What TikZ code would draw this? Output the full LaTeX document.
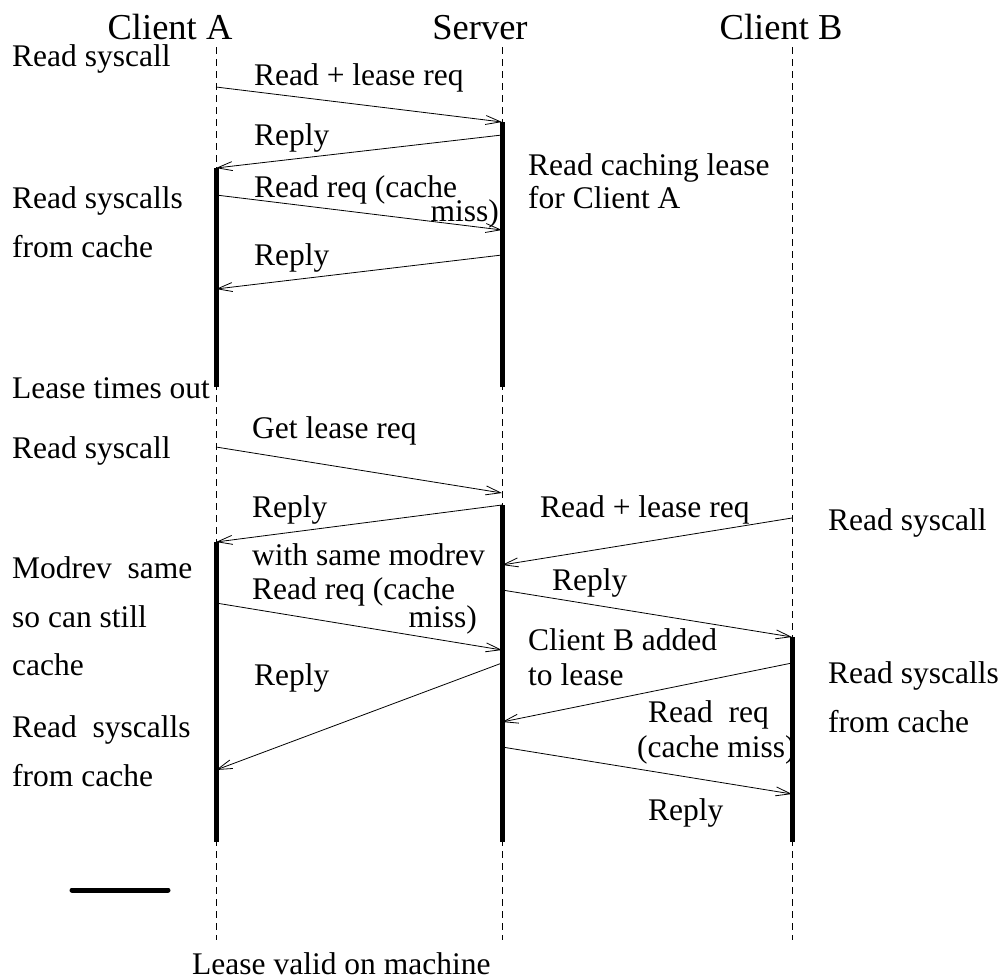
\documentclass[tikz,border=0pt]{standalone}
\usepackage{fontspec}
\setmainfont{Liberation Serif}
\usetikzlibrary{arrows.meta}

\begin{document}
\begin{tikzpicture}[x=1pt,y=-1pt,
    txt/.style={anchor=base west,inner sep=0pt,font=\fontsize{31.5}{38}\selectfont},
    head/.style={anchor=base,inner sep=0pt,font=\fontsize{36.5}{44}\selectfont},
    life/.style={line width=0.8pt,dash pattern=on 7pt off 5pt},
    lease/.style={line width=5pt},
    msg/.style={line width=0.8pt,-{Straight Barb[length=15pt,width=9pt,line width=0.8pt]}}]
  \useasboundingbox (0,0) rectangle (1005,980);
  \def\xa{216}
  \def\xs{502}
  \def\xb{792}

  % machines
  \node[head] (cla) at (170,39) {Client A};
  \node[head] (srv) at (480,39) {Server};
  \node[head] (clb) at (781,39) {Client B};
  \foreach \x in {\xa,\xs,\xb}
    \draw[life] (\x,47) -- (\x,940);

  % lease periods
  \draw[lease] (\xs,122) -- (\xs,387);
  \draw[lease] (\xa,168) -- (\xa,387);
  \draw[lease] (\xs,505) -- (\xs,842);
  \draw[lease] (\xa,542) -- (\xa,842);
  \draw[lease] (\xb,637) -- (\xb,842);

  % message end points
  \coordinate (a1) at (\xa,87);   \coordinate (s1) at (\xs,122);
  \coordinate (s2) at (\xs,135);  \coordinate (a2) at (\xa,168);
  \coordinate (a3) at (\xa,195);  \coordinate (s3) at (\xs,230);
  \coordinate (s4) at (\xs,255);  \coordinate (a4) at (\xa,289);
  \coordinate (a5) at (\xa,447);  \coordinate (s5) at (\xs,493);
  \coordinate (s6) at (\xs,505);  \coordinate (a6) at (\xa,542);
  \coordinate (b7) at (\xb,518);  \coordinate (s7) at (\xs,565);
  \coordinate (s9) at (\xs,590);  \coordinate (b9) at (\xb,637);
  \coordinate (a8) at (\xa,603);  \coordinate (s8) at (\xs,650);
  \coordinate (s10) at (\xs,663); \coordinate (a10) at (\xa,770);
  \coordinate (b11) at (\xb,663); \coordinate (s11) at (\xs,722);
  \coordinate (s12) at (\xs,747); \coordinate (b12) at (\xb,794);

  % messages
  \draw[msg] (a1) -- (s1);
  \draw[msg] (s2) -- (a2);
  \draw[msg] (a3) -- (s3);
  \draw[msg] (s4) -- (a4);
  \draw[msg] (a5) -- (s5);
  \draw[msg] (s6) -- (a6);
  \draw[msg] (b7) -- (s7);
  \draw[msg] (a8) -- (s8);
  \draw[msg] (s9) -- (b9);
  \draw[msg] (s10) -- (a10);
  \draw[msg] (b11) -- (s11);
  \draw[msg] (s12) -- (b12);

  % message labels
  \node[txt] (m1) at (254,85) {Read + lease req};
  \node[txt] (m2) at (254,145) {Reply};
  \node[txt] (m3) at (254,197) {Read req (cache};
  \node[txt,anchor=base east] (m3b) at (499,221) {miss)};
  \node[txt] (m4) at (254,265) {Reply};
  \node[txt] (m5) at (252,438) {Get lease req};
  \node[txt] (m6) at (252,517) {Reply};
  \node[txt] (m6b) at (252,565) {with same modrev};
  \node[txt] (m7) at (540,517) {Read + lease req};
  \node[txt] (m8) at (252,599) {Read req (cache};
  \node[txt,anchor=base east] (m8b) at (477,627) {miss)};
  \node[txt] (m9) at (552,590) {Reply};
  \node[txt] (m10) at (254,685) {Reply};
  \node[txt] (m11) at (648,722) {Read\ \ req};
  \node[txt] (m11b) at (637,757) {(cache miss)};
  \node[txt] (m12) at (648,820) {Reply};

  % events at the machines
  \node[txt] (e1) at (12,66) {Read syscall};
  \node[txt] (e2) at (12,208) {Read syscalls};
  \node[txt] (e2b) at (12,257) {from cache};
  \node[txt] (e3) at (528,175) {Read caching lease};
  \node[txt] (e3b) at (528,208) {for Client A};
  \node[txt] (e4) at (12,398) {Lease times out};
  \node[txt] (e5) at (12,458) {Read syscall};
  \node[txt] (e6) at (12,578) {Modrev\ \ same};
  \node[txt] (e6b) at (12,627) {so can still};
  \node[txt] (e6c) at (12,675) {cache};
  \node[txt] (e7) at (12,737) {Read\ \ syscalls};
  \node[txt] (e7b) at (12,786) {from cache};
  \node[txt] (e8) at (528,650) {Client B added};
  \node[txt] (e8b) at (528,685) {to lease};
  \node[txt] (e9) at (828,530) {Read syscall};
  \node[txt] (e10) at (828,683) {Read syscalls};
  \node[txt] (e10b) at (828,732) {from cache};

  % legend
  \coordinate (k1) at (72,890);
  \coordinate (k2) at (168,890);
  \draw[lease,line cap=round] (k1) -- (k2);
  \node[txt] (key) at (192,974) {Lease valid on machine};
\end{tikzpicture}
\end{document}
